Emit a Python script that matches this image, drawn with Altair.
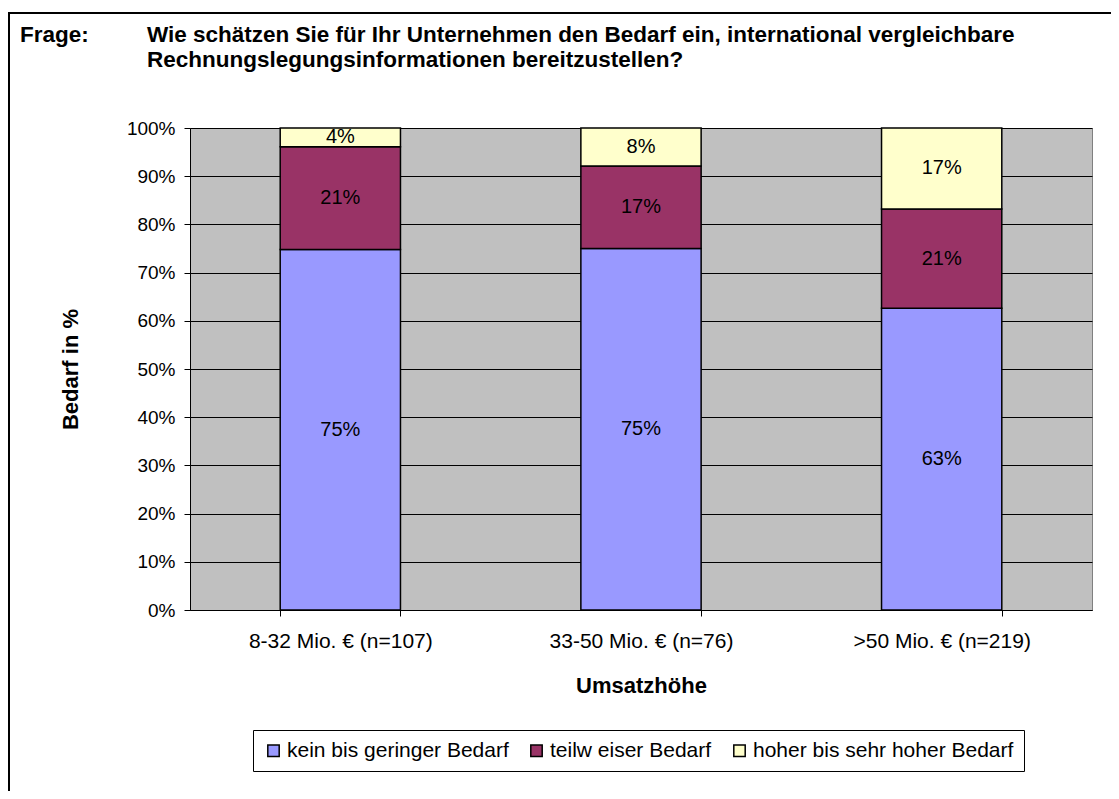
import altair as alt
import pandas as pd

# ---- data ----
categories = ["8-32 Mio. € (n=107)", "33-50 Mio. € (n=76)", ">50 Mio. € (n=219)"]
series = ["kein bis geringer Bedarf", "teilw eiser Bedarf", "hoher bis sehr hoher Bedarf"]
kein = [0.748, 0.750, 0.626]
teilw = [0.213, 0.171, 0.206]
hoher = [0.039, 0.079, 0.168]
colors = ["#9999FF", "#993366", "#FFFFCC"]
y_ticks = [0, 0.1, 0.2, 0.3, 0.4, 0.5, 0.6, 0.7, 0.8, 0.9, 1.0]

frage = "Frage:"
question = ["Wie schätzen Sie für Ihr Unternehmen den Bedarf ein, international vergleichbare",
            "Rechnungslegungsinformationen bereitzustellen?"]
x_title = "Umsatzhöhe"
y_title = "Bedarf in %"

FONT = "Liberation Sans"

rows = []
for ci, cat in enumerate(categories):
    for si, (name, vals) in enumerate(zip(series, [kein, teilw, hoher])):
        rows.append({"cat": cat, "series": name, "order": si, "value": vals[ci]})
df = pd.DataFrame(rows)

W, H = 902, 482

base = alt.Chart(df)

bars = base.mark_bar(stroke="black", strokeWidth=1.5).encode(
    x=alt.X("cat:N", sort=categories,
            scale=alt.Scale(paddingInner=0.6, paddingOuter=0.3),
            axis=alt.Axis(title=x_title, labelAngle=0, labelFontSize=21, labelPadding=14,
                          labelLimit=400,
                          labelColor="black", tickBand="extent", tickColor="black",
                          tickSize=6, domainColor="black", grid=False,
                          titleFontSize=22, titleFontWeight="bold", titleColor="black",
                          titleX=W / 2, titleY=75, titleBaseline="middle")),
    y=alt.Y("value:Q", stack="zero",
            scale=alt.Scale(domain=[0, 1], nice=False),
            axis=alt.Axis(title=y_title, values=y_ticks, format=".0%", labelFontSize=19,
                          labelColor="black", labelPadding=9, tickSize=6, tickColor="black",
                          domainColor="black", grid=True, gridColor="black", gridWidth=1,
                          titleFontSize=22, titleFontWeight="bold", titleColor="black",
                          titleX=-120, titleY=H / 2, titleAngle=270,
                          titleBaseline="middle", titleAlign="center")),
    color=alt.Color("series:N", sort=series,
                    scale=alt.Scale(domain=series, range=colors),
                    legend=alt.Legend(title=None, orient="none", legendX=63, legendY=602,
                                      direction="horizontal", strokeColor="black",
                                      fillColor="white", padding=10,
                                      labelFontSize=21, labelColor="black", labelLimit=500,
                                      labelOffset=3, symbolType="square", symbolSize=130,
                                      symbolStrokeColor="black", symbolStrokeWidth=1.5,
                                      symbolOpacity=1, columnPadding=17)),
    order=alt.Order("order:Q", sort="ascending"),
)

labels = base.transform_window(
    cum="sum(value)", groupby=["cat"], sort=[alt.SortField("order")],
    frame=[None, 0]
).transform_calculate(
    mid="datum.cum - datum.value / 2"
).mark_text(fontSize=20, color="black", baseline="middle", font=FONT).encode(
    x=alt.X("cat:N", sort=categories),
    y=alt.Y("mid:Q"),
    text=alt.Text("value:Q", format=".0%"),
)

one = pd.DataFrame({"a": [0]})
frame = alt.Chart(one).mark_rect(filled=False, stroke="black", strokeWidth=2).encode(
    x=alt.value(-181), x2=alt.value(1000), y=alt.value(-115), y2=alt.value(900)
)
t_frage = alt.Chart(one).mark_text(align="left", baseline="alphabetic", fontSize=22.5,
                                   fontWeight="bold", font=FONT, color="black").encode(
    x=alt.value(-170), y=alt.value(-86), text=alt.value(frage))
t_q = alt.Chart(one).mark_text(align="left", baseline="alphabetic", fontSize=22.5,
                               lineHeight=25, fontWeight="bold", font=FONT,
                               color="black").encode(
    x=alt.value(-43), y=alt.value(-86), text=alt.value(question))

chart = alt.layer(bars, labels, frame, t_frage, t_q).properties(
    width=W, height=H,
    padding={"left": 182, "top": 120, "right": 19, "bottom": 181},
    autosize=alt.AutoSizeParams(type="none"),
    background="white",
).configure(font=FONT).configure_view(
    fill="#C0C0C0", stroke="#808080", strokeWidth=1
)

chart.save("out.html", embed_options={"renderer": "svg", "actions": False})
